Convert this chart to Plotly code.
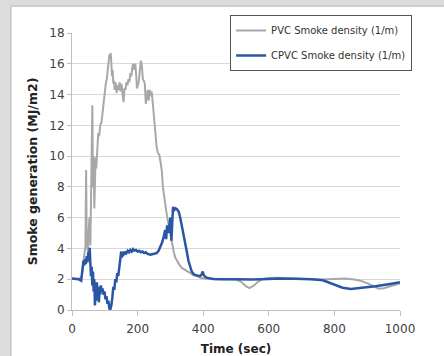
import plotly.graph_objects as go

# CPVC smoke density (blue)
cpvc_t = [0, 10, 20, 28, 32, 35, 38, 40, 42, 45, 47, 50, 52, 54, 56, 58, 60, 62, 64, 66, 68, 70, 72, 74, 76, 78, 80, 82, 84, 86, 88, 90, 93, 96, 99, 102, 105, 108, 111, 114, 117, 120, 123, 126, 129, 132, 135, 138, 141, 144, 147, 150, 152, 154, 156, 158, 160, 163, 166, 170, 174, 178, 182, 186, 190, 195, 200, 205, 210, 215, 220, 225, 230, 240, 250, 258, 264, 270, 275, 280, 284, 287, 290, 294, 297, 300, 303, 305, 308, 312, 316, 320, 325, 330, 335, 340, 345, 350, 355, 360, 365, 372, 380, 390, 395, 398, 402, 410, 430, 450, 500, 550, 600, 630, 680, 730, 765, 795, 825, 850, 885, 925, 965, 1000]
cpvc_v = [2.05, 2.02, 2.0, 1.9, 2.5, 3.2, 2.9, 3.3, 3.0, 3.5, 3.1, 3.8, 3.2, 4.05, 3.0, 2.2, 2.8, 1.6, 2.5, 1.2, 2.0, 0.3, 1.4, 0.6, 1.8, 0.8, 1.5, 0.5, 1.3, 1.0, 1.6, 1.2, 1.4, 1.0, 1.2, 0.7, 0.9, 0.4, 0.6, 0.1, 0.05, 0.3, 0.8, 1.5, 1.3, 2.0, 1.8, 2.4, 2.2, 2.8, 3.0, 3.8, 3.4, 3.7, 3.5, 3.8, 3.6, 3.8, 3.7, 3.85, 3.75, 3.9, 3.8, 3.95, 3.85, 3.9, 3.8, 3.85, 3.75, 3.8, 3.7, 3.75, 3.65, 3.6, 3.65, 3.7, 3.85, 4.1, 4.4, 4.8, 5.2, 4.6, 5.5, 5.0, 5.8, 6.0, 4.5, 5.8, 6.7, 6.5, 6.6, 6.55, 6.4, 6.0, 5.5, 5.0, 4.4, 3.8, 3.2, 2.8, 2.5, 2.3, 2.25, 2.2, 2.3, 2.5, 2.25, 2.1, 2.02, 2.0, 2.0, 1.98, 2.02, 2.05, 2.03, 2.0, 1.93, 1.7, 1.45, 1.36, 1.43, 1.54, 1.67, 1.8]

# PVC smoke density (grey)
pvc_t = [0, 20, 30, 35, 38, 41, 43, 45, 48, 50, 53, 56, 58, 60, 62, 64, 66, 68, 70, 72, 74, 76, 78, 80, 83, 86, 90, 93, 96, 100, 103, 106, 109, 112, 114, 116, 118, 120, 122, 124, 126, 128, 130, 133, 136, 139, 142, 145, 148, 151, 154, 157, 160, 163, 166, 169, 172, 175, 178, 181, 184, 187, 190, 193, 196, 198, 201, 204, 207, 210, 213, 216, 219, 222, 225, 228, 231, 234, 237, 240, 243, 246, 249, 252, 255, 258, 262, 266, 270, 274, 277, 281, 285, 289, 293, 297, 301, 305, 310, 315, 320, 327, 334, 345, 355, 368, 380, 392, 405, 430, 470, 500, 515, 530, 541, 555, 568, 580, 600, 620, 650, 700, 760, 795, 833, 860, 880, 905, 920, 935, 950, 970, 1000]
pvc_v = [2.05, 2.0, 2.2, 3.0, 3.5, 4.2, 9.1, 4.5, 3.8, 4.5, 6.0, 4.2, 8.0, 10.0, 13.3, 8.0, 10.0, 6.6, 9.5, 9.9, 9.2, 10.0, 10.8, 11.5, 11.3, 12.0, 12.2, 12.8, 13.5, 14.5, 14.7, 15.0, 15.8, 16.3, 16.6, 16.4, 16.7, 16.0, 15.2, 15.6, 14.7, 14.9, 14.3, 14.8, 14.1, 14.6, 14.3, 14.8, 14.2, 14.7, 14.0, 13.5, 14.4, 14.3, 14.8, 14.6, 15.0, 14.8, 15.4, 15.2, 15.8, 16.0, 15.6, 16.0, 15.2, 14.4, 14.6, 14.9, 15.6, 16.2, 15.9, 15.0, 14.9, 14.7, 13.4, 14.0, 14.3, 13.6, 14.3, 13.9, 14.2, 13.5, 12.7, 11.8, 11.0, 10.6, 10.2, 10.1, 9.6, 9.0, 8.0, 7.5, 6.8, 6.2, 5.7, 5.3, 4.8, 4.3, 3.8, 3.4, 3.2, 2.95, 2.75, 2.6, 2.45, 2.3, 2.2, 2.1, 2.05, 2.02, 2.0, 1.98, 1.85, 1.55, 1.42, 1.6, 1.85, 2.0, 2.08, 2.1, 2.07, 2.02, 1.98, 2.02, 2.05, 1.98, 1.9, 1.7, 1.55, 1.38, 1.42, 1.55, 1.72]

pvc_name = "PVC Smoke density (1/m)"
cpvc_name = "CPVC Smoke density (1/m)"
x_title = "Time (sec)"
y_title = "Smoke generation (MJ/m2)"

FONT = "DejaVu Sans"

fig = go.Figure()
fig.add_trace(go.Scatter(x=pvc_t, y=pvc_v, mode="lines", name=pvc_name,
                         line=dict(color="#a8a8a8", width=2), legendgroup="a"))
fig.add_trace(go.Scatter(x=cpvc_t, y=cpvc_v, mode="lines", name=cpvc_name,
                         line=dict(color="#2b56a5", width=2.5), legendgroup="b"))

fig.update_layout(
    width=444, height=356,
    margin=dict(l=72, r=44, t=33, b=46),
    paper_bgcolor="#dcdcdc",
    plot_bgcolor="white",
    font=dict(family=FONT, size=12, color="#404040"),
    showlegend=True,
    legend=dict(x=0.482, y=1.065, xanchor="left", yanchor="top",
                bgcolor="white", bordercolor="#555555", borderwidth=1,
                font=dict(family=FONT, size=10, color="#333333"),
                traceorder="grouped", tracegroupgap=6),
    shapes=[dict(type="rect", xref="paper", yref="paper",
                 x0=-0.186, x1=1.3, y0=-0.4, y1=1.097,
                 fillcolor="white", line=dict(color="#b5b5b5", width=1),
                 layer="below")],
    xaxis=dict(range=[0, 1000], dtick=200, tick0=0, automargin=False,
               showgrid=False, zeroline=False,
               showline=True, linecolor="#bfbfbf", linewidth=1,
               ticks="outside", ticklen=5, tickcolor="#bfbfbf",
               ticklabelstandoff=3,
               title=dict(text="<b>" + x_title + "</b>", standoff=10,
                          font=dict(family=FONT, size=12, color="#222222"))),
    yaxis=dict(range=[0, 18], dtick=2, tick0=0, automargin=False,
               showgrid=True, gridcolor="#d9d9d9", gridwidth=1,
               zeroline=False,
               showline=True, linecolor="#bfbfbf", linewidth=1,
               ticks="outside", ticklen=4, tickcolor="#bfbfbf",
               title=dict(text="<b>" + y_title + "</b>", standoff=8,
                          font=dict(family=FONT, size=12.5, color="#222222"))),
)

fig.write_html("out.html")
